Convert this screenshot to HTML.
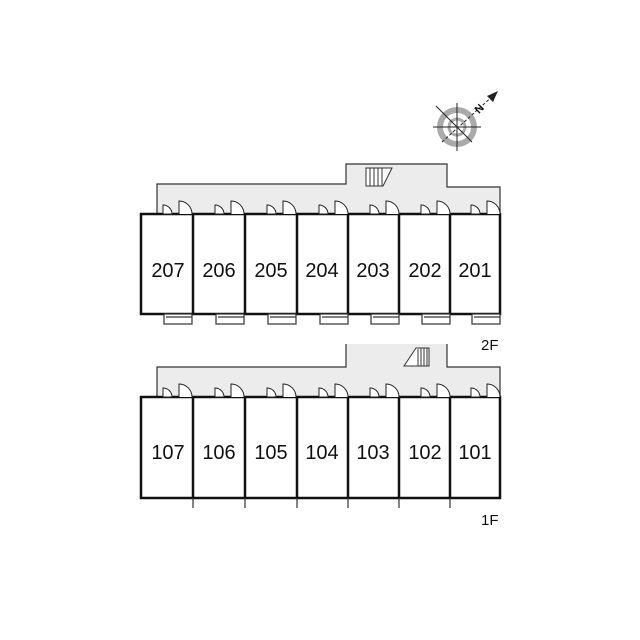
<!DOCTYPE html>
<html><head><meta charset="utf-8"><style>
html,body{margin:0;padding:0;background:#fff;}
svg{display:block}
text{font-family:"Liberation Sans",sans-serif;font-size:20px;fill:#111;}
</style></head><body>
<svg width="640" height="640" viewBox="0 0 640 640" xmlns="http://www.w3.org/2000/svg">
<defs>
 <g id="doors" fill="#fff" stroke="#222" stroke-width="1">
  <path d="M22,0 v-9 a9,9 0 0 1 9,9 z"/>
  <path d="M38,0 v-13 a13,13 0 0 1 13,13"/>
 </g>
 <g id="balc" fill="#fff" stroke="#333" stroke-width="1.2">
  <rect x="23" y="0" width="28" height="10"/>
  <line x1="25" y1="3" x2="51" y2="3"/>
 </g>
</defs>

<!-- compass -->
<g transform="translate(457,127)">
 <circle r="17" fill="none" stroke="#aaa" stroke-width="6"/>
 <circle r="8" fill="none" stroke="#aaa" stroke-width="3"/>
 <g stroke="#222" stroke-width="1">
  <line x1="-21" y1="-21" x2="15" y2="15"/>
  <line x1="-24" y1="0" x2="24" y2="0"/>
  <line x1="0" y1="-24" x2="0" y2="24"/>
  <line x1="-15" y1="15" x2="38" y2="-33" stroke-dasharray="3,2"/>
 </g>
 <polygon points="41,-36 30,-31 36,-25" fill="#222"/>
 <text x="17" y="-15" style="font-size:11px;font-weight:bold" transform="rotate(-45 22 -20)">N</text>
</g>

<!-- 2F corridor -->
<path d="M157,214 V184 H346 V164 H447 V187 H500 V214 Z" fill="#ececec" stroke="#333" stroke-width="1.2"/>
<g stroke="#333" stroke-width="1" fill="#fff">
 <polygon points="366,168 392,168 383,186 366,186"/>
 <line x1="370" y1="168" x2="370" y2="186"/><line x1="374" y1="168" x2="374" y2="186"/>
 <line x1="378" y1="168" x2="378" y2="186"/><line x1="382" y1="168" x2="382" y2="186"/>
</g>
<rect x="141" y="214" width="359" height="100" fill="#fff" stroke="#111" stroke-width="2.5"/>
<g stroke="#111" stroke-width="2.5">
 <line x1="193" y1="214" x2="193" y2="314"/><line x1="245" y1="214" x2="245" y2="314"/>
 <line x1="297" y1="214" x2="297" y2="314"/><line x1="348" y1="214" x2="348" y2="314"/>
 <line x1="399" y1="214" x2="399" y2="314"/><line x1="450" y1="214" x2="450" y2="314"/>
</g>
<use href="#doors" x="141" y="214"/><use href="#doors" x="193" y="214"/>
<use href="#doors" x="245" y="214"/><use href="#doors" x="297" y="214"/>
<use href="#doors" x="348" y="214"/><use href="#doors" x="399" y="214"/>
<use href="#doors" x="449" y="214"/>
<use href="#balc" x="141" y="314"/><use href="#balc" x="193" y="314"/>
<use href="#balc" x="245" y="314"/><use href="#balc" x="297" y="314"/>
<use href="#balc" x="348" y="314"/><use href="#balc" x="399" y="314"/>
<use href="#balc" x="449" y="314"/>
<g text-anchor="middle">
 <text x="168" y="277">207</text><text x="219" y="277">206</text><text x="271" y="277">205</text>
 <text x="322" y="277">204</text><text x="373" y="277">203</text><text x="425" y="277">202</text>
 <text x="475" y="277">201</text>
</g>
<text x="481" y="350" style="font-size:15px">2F</text>

<!-- 1F corridor -->
<path d="M157,397 V367 H346 V344 H447 V367 H500 V397 Z" fill="#ececec" stroke="none"/>
<path d="M157,397 V367 H346 V344 M447,344 V367 H500 V397" fill="none" stroke="#333" stroke-width="1.2"/>
<g stroke="#333" stroke-width="1" fill="#fff">
 <polygon points="416,348 429,348 429,366 404,366"/>
 <line x1="418" y1="349" x2="418" y2="366"/><line x1="421" y1="348" x2="421" y2="366"/>
 <line x1="424" y1="348" x2="424" y2="366"/><line x1="427" y1="348" x2="427" y2="366"/>
</g>
<rect x="141" y="397" width="359" height="101" fill="#fff" stroke="#111" stroke-width="2.5"/>
<g stroke="#111" stroke-width="2.5">
 <line x1="193" y1="397" x2="193" y2="498"/><line x1="245" y1="397" x2="245" y2="498"/>
 <line x1="297" y1="397" x2="297" y2="498"/><line x1="348" y1="397" x2="348" y2="498"/>
 <line x1="399" y1="397" x2="399" y2="498"/><line x1="450" y1="397" x2="450" y2="498"/>
</g>
<g stroke="#333" stroke-width="1.2">
 <line x1="193" y1="498" x2="193" y2="508"/><line x1="245" y1="498" x2="245" y2="508"/>
 <line x1="297" y1="498" x2="297" y2="508"/><line x1="348" y1="498" x2="348" y2="508"/>
 <line x1="399" y1="498" x2="399" y2="508"/><line x1="450" y1="498" x2="450" y2="508"/>
</g>
<use href="#doors" x="141" y="397"/><use href="#doors" x="193" y="397"/>
<use href="#doors" x="245" y="397"/><use href="#doors" x="297" y="397"/>
<use href="#doors" x="348" y="397"/><use href="#doors" x="399" y="397"/>
<use href="#doors" x="449" y="397"/>
<g text-anchor="middle">
 <text x="168" y="459">107</text><text x="219" y="459">106</text><text x="271" y="459">105</text>
 <text x="322" y="459">104</text><text x="373" y="459">103</text><text x="425" y="459">102</text>
 <text x="475" y="459">101</text>
</g>
<text x="481" y="525" style="font-size:15px">1F</text>
</svg>
</body></html>
